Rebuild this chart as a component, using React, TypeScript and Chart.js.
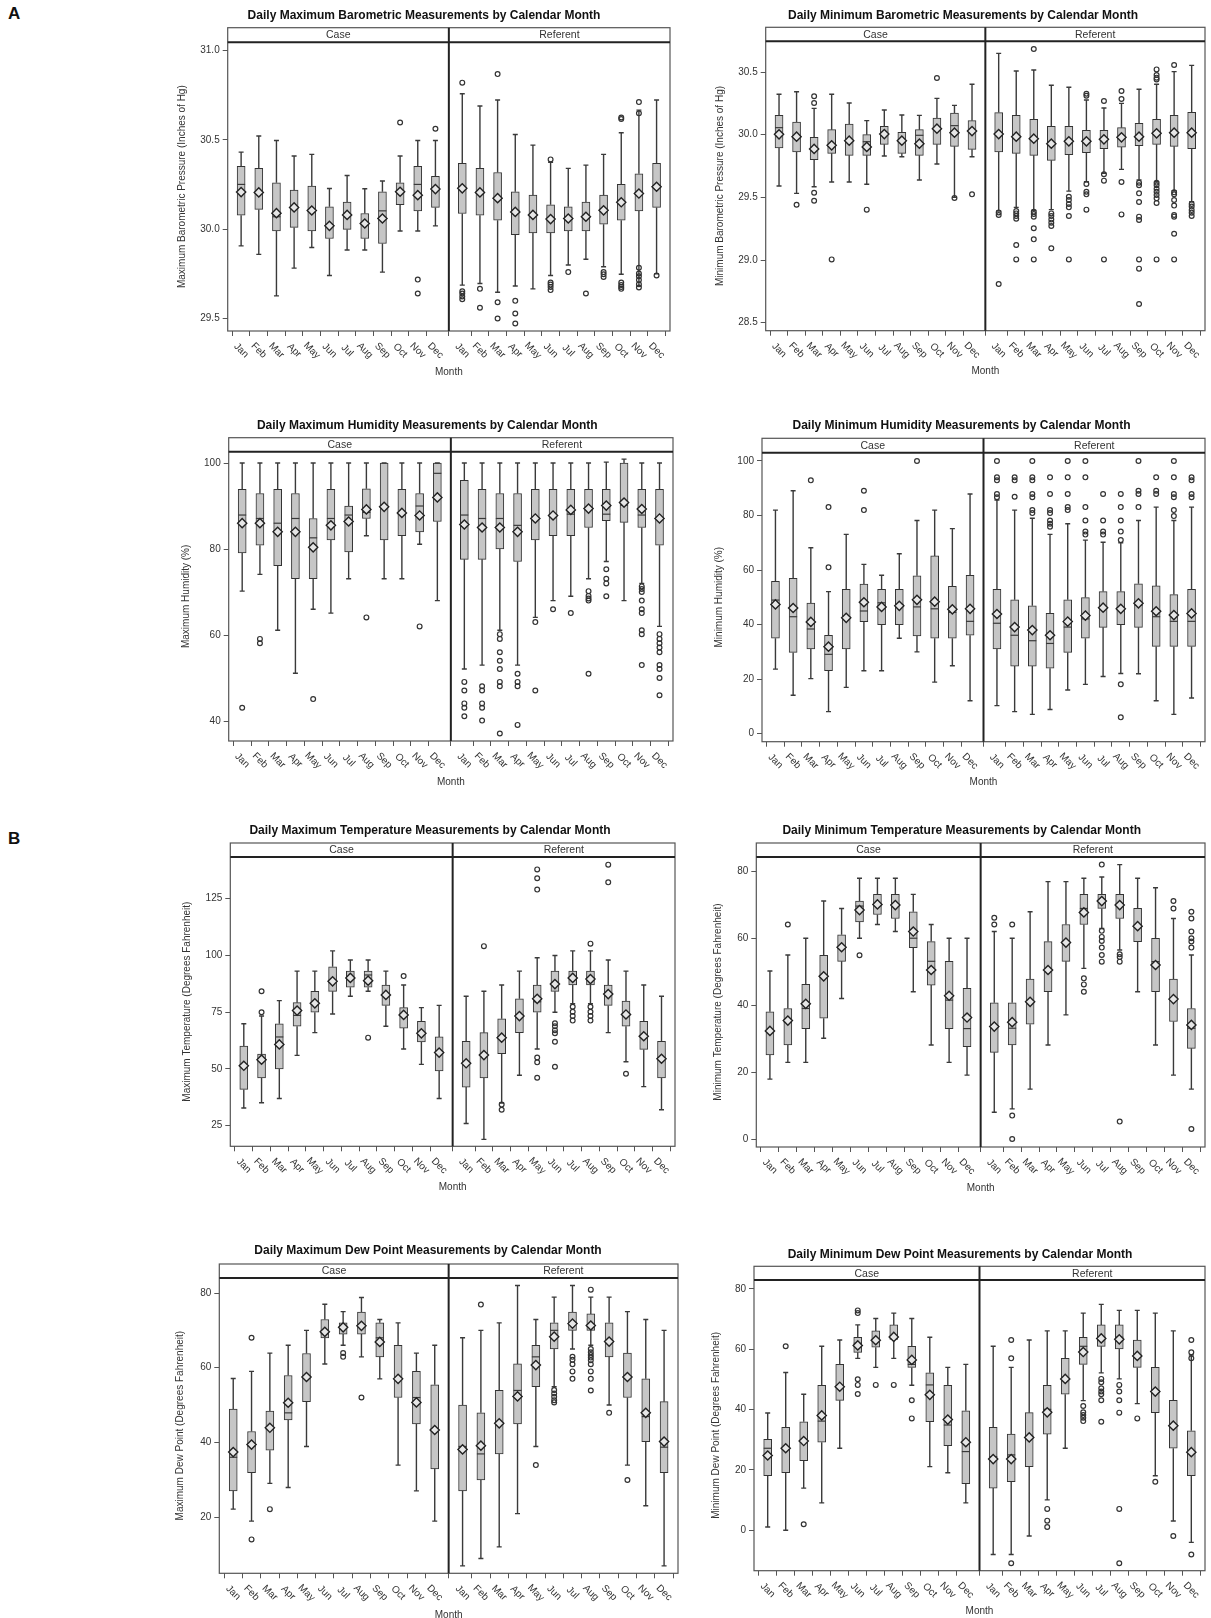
import React, { useEffect, useRef } from "react";
import { Chart, registerables } from "chart.js";
Chart.register(...registerables);

const FONT = "'Liberation Sans', Arial, sans-serif";
Chart.defaults.font.family = FONT;

// ---------- shared categories ----------
const months = ["Jan", "Feb", "Mar", "Apr", "May", "Jun", "Jul", "Aug", "Sep", "Oct", "Nov", "Dec"];
const facets = ["Case", "Referent"];

// ---------- Daily Maximum Barometric ----------
const maxBaroLow = [29.907, 29.859, 29.627, 29.782, 29.898, 29.741, 29.884, 29.884, 29.76, 29.99, 29.99, 30.019, 29.687, 29.696, 29.647, 29.682, 29.666, 29.741, 29.8, 29.832, 29.79, 29.748, 29.682, 29.75];
const maxBaroQ1 = [30.079, 30.111, 29.99, 30.01, 29.99, 29.948, 29.999, 29.948, 29.92, 30.137, 30.102, 30.122, 30.088, 30.079, 30.051, 29.97, 29.98, 29.98, 29.99, 29.99, 30.028, 30.051, 30.102, 30.122];
const maxBaroMed = [30.251, 30.206, 30.07, 30.122, 30.103, 30.019, 30.08, 30.032, 30.103, 30.21, 30.251, 30.228, 30.232, 30.21, 30.177, 30.106, 30.08, 30.06, 30.06, 30.07, 30.106, 30.151, 30.2, 30.238];
const maxBaroQ3 = [30.352, 30.341, 30.26, 30.219, 30.242, 30.126, 30.152, 30.088, 30.21, 30.26, 30.352, 30.296, 30.369, 30.341, 30.318, 30.21, 30.191, 30.137, 30.126, 30.152, 30.191, 30.251, 30.311, 30.369];
const maxBaroHigh = [30.432, 30.522, 30.497, 30.41, 30.419, 30.228, 30.301, 30.227, 30.27, 30.41, 30.497, 30.497, 30.759, 30.69, 30.724, 30.531, 30.471, 30.375, 30.341, 30.359, 30.419, 30.54, 30.667, 30.724];
const maxBaroMean = [30.208, 30.206, 30.09, 30.122, 30.105, 30.019, 30.08, 30.032, 30.06, 30.21, 30.191, 30.225, 30.229, 30.206, 30.174, 30.097, 30.08, 30.057, 30.06, 30.07, 30.106, 30.151, 30.2, 30.238];
const maxBaroOut = [[], [], [], [], [], [], [], [], [], [30.598], [29.718, 29.64], [30.563],
  [30.821, 29.653, 29.64, 29.623, 29.608], [29.666, 29.56], [30.869, 29.591, 29.5], [29.599, 29.528, 29.472], [], [30.391, 29.702, 29.69, 29.677, 29.659], [29.76], [29.64], [29.76, 29.748, 29.733], [30.626, 30.617, 29.702, 29.687, 29.677, 29.666], [30.712, 30.649, 29.784, 29.752, 29.737, 29.715, 29.692, 29.674], [29.741]];
const maxBaroTicks = [29.5, 30.0, 30.5, 31.0];

// ---------- Daily Minimum Barometric ----------
const minBaroLow = [29.59, 29.532, 29.585, 29.622, 29.622, 29.604, 29.83, 29.824, 29.638, 29.766, 29.5, 29.824, 29.391, 29.42, 29.396, 29.402, 29.55, 29.625, 29.691, 29.723, 29.638, 29.625, 29.553, 29.465];
const minBaroQ1 = [29.894, 29.862, 29.8, 29.851, 29.835, 29.835, 29.923, 29.851, 29.835, 29.923, 29.907, 29.883, 29.862, 29.851, 29.835, 29.795, 29.84, 29.856, 29.888, 29.901, 29.912, 29.923, 29.907, 29.888];
const minBaroMed = [30.056, 29.984, 29.886, 29.918, 29.952, 29.944, 30.005, 29.952, 29.995, 30.056, 30.072, 30.029, 30.011, 29.989, 29.973, 29.923, 29.947, 29.947, 29.963, 29.979, 29.984, 30.016, 30.021, 30.021];
const minBaroQ3 = [30.154, 30.101, 29.979, 30.04, 30.085, 30.0, 30.066, 30.019, 30.04, 30.133, 30.173, 30.112, 30.176, 30.154, 30.122, 30.066, 30.066, 30.035, 30.035, 30.056, 30.09, 30.122, 30.154, 30.178];
const minBaroHigh = [30.322, 30.343, 30.21, 30.322, 30.253, 30.112, 30.197, 30.157, 30.154, 30.29, 30.234, 30.402, 30.649, 30.508, 30.516, 30.394, 30.378, 30.277, 30.213, 30.25, 30.362, 30.402, 30.503, 30.553];
const minBaroMean = [30.003, 29.984, 29.886, 29.915, 29.952, 29.902, 30.005, 29.952, 29.928, 30.048, 30.016, 30.029, 30.005, 29.984, 29.968, 29.928, 29.947, 29.947, 29.963, 29.979, 29.984, 30.011, 30.016, 30.016];
const minBaroOut = [[], [29.441], [30.306, 30.253, 29.537, 29.473], [29.005], [], [29.402], [], [], [], [30.452], [29.495], [29.524],
  [29.38, 29.359, 28.809], [29.391, 29.372, 29.351, 29.33, 29.12, 29.005], [30.684, 29.386, 29.367, 29.346, 29.253, 29.165, 29.005], [29.372, 29.351, 29.324, 29.298, 29.271, 29.093], [29.505, 29.479, 29.447, 29.42, 29.351, 29.005], [30.327, 30.311, 29.606, 29.545, 29.524, 29.402], [30.269, 29.684, 29.633, 29.005], [30.348, 30.285, 29.622, 29.364], [29.617, 29.596, 29.532, 29.463, 29.346, 29.319, 29.005, 28.931, 28.649], [30.521, 30.476, 30.455, 30.441, 29.617, 29.596, 29.569, 29.545, 29.519, 29.492, 29.455, 29.005], [30.556, 29.54, 29.524, 29.479, 29.434, 29.359, 29.346, 29.21, 29.005], [29.447, 29.426, 29.399, 29.378, 29.351]];
const minBaroTicks = [28.5, 29.0, 29.5, 30.0, 30.5];

// ---------- Daily Maximum Humidity ----------
const maxHumLow = [70.2, 74.1, 61.1, 51.1, 66.0, 65.1, 73.1, 83.1, 73.1, 73.1, 81.1, 68.0, 52.1, 53.0, 61.1, 53.0, 64.1, 68.0, 69.0, 73.1, 77.1, 68.0, 72.0, 62.0];
const maxHumQ1 = [79.1, 80.9, 76.1, 73.1, 73.1, 82.1, 79.3, 87.1, 82.1, 83.1, 84.0, 86.4, 77.6, 77.6, 80.0, 77.1, 82.1, 83.1, 83.1, 85.0, 86.6, 86.2, 85.0, 80.9];
const maxHumMed = [87.9, 87.1, 86.0, 87.1, 82.6, 87.1, 87.9, 88.5, 89.8, 88.1, 90.0, 97.6, 87.9, 87.1, 87.1, 85.5, 87.1, 87.9, 88.1, 89.1, 88.1, 90.2, 87.9, 87.1];
const maxHumQ3 = [93.9, 92.9, 93.9, 92.9, 87.1, 93.9, 90.0, 94.0, 100, 93.9, 92.9, 100, 96.0, 93.9, 92.9, 92.9, 93.9, 93.9, 93.9, 93.9, 93.9, 100, 93.9, 93.9];
const maxHumHigh = [100, 100, 100, 100, 100, 100, 100, 100, 100, 100, 100, 100, 100, 100, 100, 100, 100, 100, 100, 100, 100.2, 100.9, 100, 100];
const maxHumMean = [86.0, 86.0, 84.0, 84.0, 80.4, 85.5, 86.4, 89.2, 89.8, 88.4, 87.8, 92.0, 85.7, 85.0, 85.0, 84.0, 87.1, 87.8, 89.1, 89.4, 90.1, 90.8, 89.3, 87.1];
const maxHumOut = [[43.1], [59.1, 58.1], [], [], [45.1], [], [], [64.1], [], [], [62.0], [],
  [49.1, 47.1, 44.1, 43.1, 41.1], [48.1, 47.1, 44.1, 43.1, 40.1], [60.2, 59.1, 56.0, 54.0, 52.1, 49.1, 48.1, 37.1], [51.0, 49.1, 48.1, 39.1], [63.0, 47.1], [66.0], [65.1], [70.2, 69.1, 68.5, 68.0, 51.0], [75.3, 73.1, 72.0, 69.0], [], [71.3, 70.7, 70.0, 68.0, 66.0, 65.1, 61.1, 60.2, 53.0], [60.2, 59.1, 58.1, 57.1, 56.0, 53.0, 52.1, 50.0, 46.0]];
const maxHumTicks = [40, 60, 80, 100];

// ---------- Daily Minimum Humidity ----------
const minHumLow = [23.7, 14.1, 20.2, 8.1, 17.0, 23.1, 23.1, 35.0, 30.0, 18.9, 24.9, 12.1, 10.3, 8.1, 7.1, 8.9, 16.0, 18.1, 21.0, 22.1, 22.0, 12.1, 7.1, 13.1];
const minHumQ1 = [35.0, 29.8, 31.1, 23.1, 31.1, 41.1, 40.0, 40.0, 35.9, 35.0, 35.0, 36.1, 31.1, 24.8, 24.8, 24.0, 29.8, 35.0, 39.0, 40.0, 39.0, 32.0, 32.0, 32.0];
const minHumMed = [49.0, 42.9, 38.4, 29.1, 42.8, 45.0, 48.0, 47.4, 46.5, 45.8, 44.5, 41.2, 40.5, 36.1, 34.1, 33.1, 39.1, 42.1, 46.5, 46.1, 47.1, 42.9, 41.2, 41.2];
const minHumQ3 = [55.9, 57.0, 47.9, 36.1, 52.9, 54.9, 52.9, 52.9, 57.9, 65.2, 54.0, 58.1, 52.9, 49.1, 46.9, 44.1, 49.1, 49.9, 52.1, 52.1, 55.0, 54.2, 51.0, 52.9];
const minHumHigh = [82.0, 89.1, 68.2, 52.1, 73.1, 62.1, 58.1, 66.0, 78.2, 82.0, 75.2, 87.9, 85.7, 82.0, 79.0, 73.1, 77.0, 71.0, 70.2, 70.0, 78.2, 83.1, 78.2, 83.1];
const minHumMean = [47.4, 46.1, 41.0, 31.9, 42.5, 48.2, 46.5, 46.9, 49.1, 48.4, 45.6, 45.8, 43.9, 39.1, 38.0, 36.1, 41.1, 43.3, 46.2, 45.8, 47.8, 44.9, 43.5, 44.1];
const minHumOut = [[], [], [92.9], [83.1, 61.0], [], [89.1, 82.0], [], [], [100], [], [], [],
  [100, 94.0, 92.9, 87.9, 86.7], [94.0, 92.9, 86.9], [100, 94.0, 92.9, 87.9, 86.7, 82.0, 80.9], [94.0, 87.9, 82.0, 80.9, 78.2, 77.0, 75.9], [100, 94.0, 87.9, 83.1, 82.0], [100, 94.0, 83.1, 78.2, 74.1, 73.0], [87.9, 78.2, 74.1, 73.0], [87.9, 83.1, 78.2, 74.1, 71.0, 18.1, 6.0], [100, 89.1, 87.9, 83.1], [94.0, 89.1, 87.9], [100, 94.0, 87.9, 86.7, 82.0, 79.8], [94.0, 92.9, 87.9, 86.7]];
const minHumTicks = [0, 20, 40, 60, 80, 100];

// ---------- Daily Maximum Temperature ----------
const maxTempLow = [32.8, 35.1, 37.0, 56.0, 66.0, 74.2, 82.0, 84.2, 68.8, 58.8, 52.0, 37.0, 26.0, 19.0, 35.0, 47.2, 58.8, 75.0, 78.7, 78.7, 66.0, 53.2, 42.2, 32.0];
const maxTempQ1 = [41.0, 46.0, 50.0, 68.8, 75.0, 84.2, 86.0, 86.0, 78.0, 68.0, 61.9, 49.1, 42.0, 46.0, 56.7, 66.0, 75.0, 84.2, 87.0, 87.0, 78.0, 68.8, 58.6, 46.0];
const maxTempMed = [51.4, 54.1, 64.1, 73.6, 78.6, 88.9, 90.1, 91.4, 82.6, 74.0, 65.7, 57.3, 52.5, 56.3, 64.1, 73.8, 79.6, 88.0, 90.1, 89.9, 83.0, 74.0, 64.4, 54.4];
const maxTempQ3 = [60.1, 56.5, 69.9, 79.2, 84.2, 95.0, 93.1, 93.1, 87.0, 77.0, 71.0, 64.1, 62.2, 66.0, 72.1, 80.9, 87.0, 93.1, 93.1, 93.1, 87.0, 79.9, 71.0, 62.2];
const maxTempHigh = [69.9, 73.3, 80.1, 93.1, 93.1, 102.0, 98.0, 98.0, 93.1, 87.0, 77.0, 78.0, 82.0, 84.2, 87.0, 93.1, 99.0, 100.0, 102.0, 102.0, 98.0, 93.1, 87.0, 82.0];
const maxTempMean = [51.4, 54.1, 60.8, 75.7, 78.9, 88.6, 90.1, 88.9, 82.6, 73.8, 65.7, 57.2, 52.5, 56.1, 63.8, 73.3, 80.9, 87.4, 90.1, 89.6, 83.0, 74.0, 64.4, 54.5];
const maxTempOut = [[], [84.2, 75.0], [], [], [], [], [], [63.8], [], [90.9], [], [],
  [], [104.1], [34.3, 32.0], [], [137.9, 134.0, 129.0, 55.0, 52.9, 46.1], [70.1, 68.8, 67.1, 65.7, 62.0, 51.0], [77.4, 75.2, 73.3, 71.3], [105.2, 77.4, 75.2, 73.3, 71.3], [140.0, 132.2], [47.9], [], []];
const maxTempTicks = [25, 50, 75, 100, 125];

// ---------- Daily Minimum Temperature ----------
const minTempLow = [17.9, 22.9, 22.9, 30.1, 42.0, 60.0, 64.1, 62.0, 44.0, 28.1, 22.9, 19.1, 8.0, 9.0, 14.9, 28.1, 37.1, 51.0, 62.9, 56.5, 44.0, 28.1, 19.1, 14.9];
const minTempQ1 = [25.1, 28.1, 33.0, 36.1, 53.1, 64.9, 67.1, 65.9, 57.2, 46.0, 33.0, 27.6, 25.9, 28.1, 34.3, 44.0, 53.1, 64.1, 68.9, 65.9, 59.0, 44.0, 35.1, 27.1];
const minTempMed = [32.1, 34.9, 39.0, 48.4, 57.2, 69.6, 70.1, 69.9, 60.0, 53.1, 41.5, 33.0, 33.3, 33.1, 41.0, 50.8, 59.0, 68.9, 71.1, 70.1, 63.9, 53.0, 42.0, 33.1];
const minTempQ3 = [38.0, 39.0, 46.2, 54.9, 61.0, 71.1, 73.1, 73.1, 67.9, 59.0, 53.1, 45.0, 40.7, 40.7, 47.8, 59.0, 64.1, 73.1, 73.1, 73.1, 68.9, 60.0, 47.8, 39.0];
const minTempHigh = [50.2, 55.0, 60.0, 71.1, 68.9, 77.9, 77.9, 77.9, 73.1, 64.1, 60.0, 60.0, 62.0, 60.0, 67.9, 76.9, 76.9, 77.9, 78.3, 82.0, 77.9, 75.1, 65.9, 55.0];
const minTempMean = [32.3, 35.4, 40.4, 48.6, 57.3, 68.4, 70.1, 69.9, 62.0, 50.5, 42.8, 36.3, 33.6, 34.9, 41.0, 50.5, 58.7, 67.7, 71.1, 69.9, 63.6, 52.0, 41.8, 34.1];
const minTempOut = [[], [64.1], [], [], [], [54.9], [], [], [], [], [], [],
  [66.1, 64.1], [64.1, 7.0, 0], [], [], [], [48.0, 46.2, 44.0], [82.0, 62.2, 60.4, 59.2, 57.2, 55.0, 53.0], [55.2, 54.4, 53.0, 5.2], [], [], [71.1, 68.9], [67.9, 65.9, 62.0, 60.0, 59.0, 57.2, 3.0]];
const minTempTicks = [0, 20, 40, 60, 80];

// ---------- Daily Maximum Dew Point ----------
const maxDewLow = [22.1, 18.9, 29.0, 27.9, 38.9, 61.0, 66.0, 62.9, 57.0, 33.9, 27.0, 18.9, 6.9, 8.9, 12.0, 20.9, 38.9, 54.9, 65.0, 66.0, 50.0, 33.9, 23.0, 6.9];
const maxDewQ1 = [27.0, 31.9, 37.9, 46.0, 50.9, 68.0, 69.0, 69.0, 62.9, 52.0, 44.9, 32.9, 27.0, 29.9, 36.9, 44.9, 54.9, 65.0, 70.0, 70.0, 62.9, 52.0, 40.2, 31.9];
const maxDewMed = [36.0, 38.9, 43.5, 47.9, 57.5, 69.1, 71.0, 71.4, 68.0, 57.0, 52.0, 43.6, 38.9, 36.9, 44.9, 53.9, 62.9, 70.0, 72.0, 71.3, 67.0, 57.5, 46.9, 38.7];
const maxDewQ3 = [48.9, 42.9, 48.4, 57.9, 63.8, 72.9, 72.0, 74.9, 72.0, 66.0, 59.0, 55.4, 50.0, 47.9, 53.9, 61.0, 66.0, 72.0, 74.9, 74.4, 72.0, 63.9, 57.0, 50.9];
const maxDewHigh = [57.1, 59.0, 63.9, 66.0, 70.0, 77.0, 75.0, 78.8, 72.9, 72.0, 63.9, 66.0, 68.0, 70.0, 72.0, 82.0, 72.9, 78.9, 82.0, 78.9, 78.9, 75.0, 72.9, 70.0];
const maxDewMean = [37.4, 39.4, 43.9, 50.6, 57.5, 69.6, 70.8, 71.2, 66.9, 57.0, 50.7, 43.3, 38.1, 39.1, 45.1, 52.3, 60.7, 68.3, 71.8, 71.3, 67.0, 57.5, 47.9, 40.2];
const maxDewOut = [[], [68.0, 14.0], [22.1], [], [], [], [63.9, 62.9], [52.0], [], [], [], [],
  [], [76.9], [], [], [33.9], [54.0, 53.1, 52.2, 51.3, 50.7], [62.9, 62.1, 60.9, 59.0, 57.0], [80.9, 65.0, 64.1, 63.4, 62.7, 62.0, 60.9, 59.0, 57.0, 53.9], [47.9], [29.9], [], []];
const maxDewTicks = [20, 40, 60, 80];

// ---------- Daily Minimum Dew Point ----------
const minDewLow = [1.1, 0, 14.0, 9.1, 27.2, 57.0, 54.0, 57.0, 48.1, 21.1, 19.1, 9.1, -8.0, -8.0, -1.9, 10.1, 27.2, 43.0, 52.2, 50.2, 42.0, 18.1, 3.1, -4.0];
const minDewQ1 = [18.1, 19.1, 23.1, 29.2, 43.1, 59.0, 60.7, 63.3, 54.0, 36.0, 28.1, 15.5, 14.0, 16.1, 21.1, 31.9, 45.1, 55.0, 61.0, 60.1, 54.0, 39.0, 27.2, 18.1];
const minDewMed = [27.2, 27.2, 29.6, 36.2, 47.6, 62.0, 63.0, 64.1, 55.0, 48.2, 34.9, 26.1, 24.4, 25.0, 31.2, 40.1, 50.2, 61.0, 64.0, 64.0, 58.1, 46.2, 34.9, 26.1];
const minDewQ3 = [30.2, 34.1, 36.0, 48.1, 55.0, 64.0, 66.1, 68.1, 61.0, 52.2, 48.1, 39.6, 34.1, 31.9, 39.0, 48.1, 57.0, 64.0, 68.1, 68.1, 63.1, 54.0, 43.1, 33.0];
const minDewHigh = [38.9, 52.3, 45.1, 61.0, 63.1, 68.1, 70.2, 72.0, 70.2, 64.0, 54.0, 55.0, 61.0, 54.0, 63.1, 66.1, 66.1, 72.0, 74.9, 72.9, 72.9, 72.0, 66.1, 58.1];
const minDewMean = [24.8, 27.2, 29.6, 38.1, 47.6, 61.3, 63.0, 64.1, 56.5, 44.9, 36.7, 29.2, 23.6, 23.6, 30.8, 39.1, 50.2, 59.1, 63.6, 63.3, 57.8, 46.0, 34.7, 25.9];
const minDewOut = [[], [61.0], [2.0], [], [], [72.9, 72.0, 50.1, 48.2, 45.2], [48.2], [48.2], [43.1, 37.1], [], [], [],
  [], [63.1, 57.0, -10.9], [], [7.1, 3.2, 1.1], [], [41.2, 39.1, 38.2, 37.3, 36.2], [50.2, 49.1, 47.1, 46.0, 45.1, 43.1, 36.0], [48.2, 46.0, 43.1, 39.0, 7.1, -10.9], [37.1], [16.1], [-1.9], [63.1, 59.0, 57.0, -8.0]];
const minDewTicks = [0, 20, 40, 60, 80];

// ---------- layout helpers ----------
const PAD = 0.76;
const FACET = 11 + 2 * PAD;
const posOf = (k: number) => (k < 12 ? PAD + k : FACET + PAD + (k - 12));
const positions = Array.from({ length: 24 }, (_, k) => posOf(k));

type Layout = { plotL: number; plotR: number; stripT: number; stripB: number; plotB: number; titleX: number; titleY: number; yTitleX: number; monthY: number };
type Spec = {
  title: string; yTitle: string; low: number[]; q1: number[]; med: number[]; q3: number[]; high: number[]; mean: number[]; out: number[][];
  yMin: number; yMax: number; ticks: number[]; dec: number; layout: Layout;
};

const panels: Spec[] = [
  { title: "Daily Maximum Barometric Measurements by Calendar Month", yTitle: "Maximum Barometric Pressure (Inches of Hg)", low: maxBaroLow, q1: maxBaroQ1, med: maxBaroMed, q3: maxBaroQ3, high: maxBaroHigh, mean: maxBaroMean, out: maxBaroOut, yMin: 29.43, yMax: 31.047, ticks: maxBaroTicks, dec: 1,
    layout: { plotL: 227.7, plotR: 674, stripT: 27.7, stripB: 42.3, plotB: 331, titleX: 424, titleY: 16, yTitleX: 182.3, monthY: 372 } },
  { title: "Daily Minimum Barometric Measurements by Calendar Month", yTitle: "Minimum Barometric Pressure (Inches of Hg)", low: minBaroLow, q1: minBaroQ1, med: minBaroMed, q3: minBaroQ3, high: minBaroHigh, mean: minBaroMean, out: minBaroOut, yMin: 28.436, yMax: 30.745, ticks: minBaroTicks, dec: 1,
    layout: { plotL: 765.7, plotR: 1210, stripT: 27.3, stripB: 41.3, plotB: 330.7, titleX: 963, titleY: 15.7, yTitleX: 720.7, monthY: 371.7 } },
  { title: "Daily Maximum Humidity Measurements by Calendar Month", yTitle: "Maximum Humidity (%)", low: maxHumLow, q1: maxHumQ1, med: maxHumMed, q3: maxHumQ3, high: maxHumHigh, mean: maxHumMean, out: maxHumOut, yMin: 35.35, yMax: 102.63, ticks: maxHumTicks, dec: 0,
    layout: { plotL: 228.7, plotR: 676.7, stripT: 437.7, stripB: 451.7, plotB: 741, titleX: 427.3, titleY: 425.7, yTitleX: 186, monthY: 782 } },
  { title: "Daily Minimum Humidity Measurements by Calendar Month", yTitle: "Minimum Humidity (%)", low: minHumLow, q1: minHumQ1, med: minHumMed, q3: minHumQ3, high: minHumHigh, mean: minHumMean, out: minHumOut, yMin: -2.93, yMax: 103.04, ticks: minHumTicks, dec: 0,
    layout: { plotL: 762, plotR: 1209.3, stripT: 438.3, stripB: 452.7, plotB: 741.7, titleX: 961.5, titleY: 426, yTitleX: 719.3, monthY: 782.7 } },
  { title: "Daily Maximum Temperature Measurements by Calendar Month", yTitle: "Maximum Temperature (Degrees Fahrenheit)", low: maxTempLow, q1: maxTempQ1, med: maxTempMed, q3: maxTempQ3, high: maxTempHigh, mean: maxTempMean, out: maxTempOut, yMin: 15.93, yMax: 143.37, ticks: maxTempTicks, dec: 0,
    layout: { plotL: 230.3, plotR: 679, stripT: 843, stripB: 857, plotB: 1146.3, titleX: 430, titleY: 830.7, yTitleX: 187.3, monthY: 1187.7 } },
  { title: "Daily Minimum Temperature Measurements by Calendar Month", yTitle: "Minimum Temperature (Degrees Fahrenheit)", low: minTempLow, q1: minTempQ1, med: minTempMed, q3: minTempQ3, high: minTempHigh, mean: minTempMean, out: minTempOut, yMin: -2.39, yMax: 84.27, ticks: minTempTicks, dec: 0,
    layout: { plotL: 756.3, plotR: 1210, stripT: 843, stripB: 857, plotB: 1147, titleX: 961.7, titleY: 830.7, yTitleX: 718.3, monthY: 1188.3 } },
  { title: "Daily Maximum Dew Point Measurements by Calendar Month", yTitle: "Maximum Dew Point (Degrees Fahrenheit)", low: maxDewLow, q1: maxDewQ1, med: maxDewMed, q3: maxDewQ3, high: maxDewHigh, mean: maxDewMean, out: maxDewOut, yMin: 4.92, yMax: 84.02, ticks: maxDewTicks, dec: 0,
    layout: { plotL: 219.3, plotR: 682, stripT: 1264, stripB: 1278, plotB: 1573.3, titleX: 428, titleY: 1251, yTitleX: 180, monthY: 1615 } },
  { title: "Daily Minimum Dew Point Measurements by Calendar Month", yTitle: "Minimum Dew Point (Degrees Fahrenheit)", low: minDewLow, q1: minDewQ1, med: minDewMed, q3: minDewQ3, high: minDewHigh, mean: minDewMean, out: minDewOut, yMin: -13.39, yMax: 82.98, ticks: minDewTicks, dec: 0,
    layout: { plotL: 754, plotR: 1210, stripT: 1266.3, stripB: 1280, plotB: 1570.7, titleX: 960, titleY: 1254.3, yTitleX: 716.7, monthY: 1611.7 } },
];

const TEXT = "#333333";
const DARK = "#222222";

function Panel({ spec }: { spec: Spec }) {
  const ref = useRef<HTMLCanvasElement>(null);
  const L = spec.layout;
  const cLeft = Math.floor(L.yTitleX - 14);
  const cTop = Math.floor(L.titleY - 12);
  const cRight = Math.min(1211, Math.ceil(L.plotR + 2));
  const cBottom = Math.ceil(L.monthY + 9);
  const W = cRight - cLeft;
  const H = cBottom - cTop;

  useEffect(() => {
    const canvas = ref.current;
    if (!canvas) return;
    const decor = {
      id: "boxDecor",
      afterDatasetDraw(chart: any, args: any) {
        if (args.index !== 0) return;
        const x = chart.scales.x;
        const y = chart.scales.y;
        const ctx = chart.ctx;
        ctx.save();
        ctx.strokeStyle = "#3a3a3a";
        ctx.lineWidth = 1.4;
        for (let k = 0; k < 24; k++) {
          const px = x.getPixelForValue(positions[k]);
          const yHi = y.getPixelForValue(spec.high[k]);
          const yLo = y.getPixelForValue(spec.low[k]);
          const yQ1 = y.getPixelForValue(spec.q1[k]);
          const yQ3 = y.getPixelForValue(spec.q3[k]);
          ctx.beginPath();
          ctx.moveTo(px, yQ3); ctx.lineTo(px, yHi);
          ctx.moveTo(px - 2.5, yHi); ctx.lineTo(px + 2.5, yHi);
          ctx.moveTo(px, yQ1); ctx.lineTo(px, yLo);
          ctx.moveTo(px - 2.5, yLo); ctx.lineTo(px + 2.5, yLo);
          ctx.stroke();
          const yMed = y.getPixelForValue(spec.med[k]);
          ctx.beginPath();
          ctx.lineWidth = 1.2;
          ctx.moveTo(px - 4, yMed); ctx.lineTo(px + 4, yMed);
          ctx.stroke();
          ctx.lineWidth = 1.4;
        }
        ctx.restore();
      },
      afterDraw(chart: any) {
        const ctx = chart.ctx;
        const a = chart.chartArea;
        const x = chart.scales.x;
        const stripT = L.stripT - cTop;
        const divX = x.getPixelForValue(FACET);
        ctx.save();
        // frame
        ctx.strokeStyle = "#555555";
        ctx.lineWidth = 1.2;
        ctx.strokeRect(a.left, stripT, a.right - a.left, a.bottom - stripT);
        // strip separator & facet divider
        ctx.strokeStyle = DARK;
        ctx.lineWidth = 2;
        ctx.beginPath();
        ctx.moveTo(a.left, a.top); ctx.lineTo(a.right, a.top);
        ctx.moveTo(divX, stripT); ctx.lineTo(divX, a.bottom);
        ctx.stroke();
        // strip labels
        ctx.fillStyle = TEXT;
        ctx.font = `10.5px ${FONT}`;
        ctx.textAlign = "center";
        ctx.textBaseline = "middle";
        const sy = (stripT + a.top) / 2 + 0.5;
        ctx.fillText(facets[0], (a.left + divX) / 2, sy);
        ctx.fillText(facets[1], (divX + a.right) / 2, sy);
        // title
        ctx.fillStyle = "#111111";
        ctx.font = `bold 12px ${FONT}`;
        ctx.fillText(spec.title, L.titleX - cLeft, L.titleY - cTop);
        // y title
        ctx.fillStyle = TEXT;
        ctx.font = `10px ${FONT}`;
        ctx.save();
        ctx.translate(L.yTitleX - cLeft, (a.top + a.bottom) / 2);
        ctx.rotate(-Math.PI / 2);
        ctx.fillText(spec.yTitle, 0, 0);
        ctx.restore();
        // x tick labels (rotated)
        for (let k = 0; k < 24; k++) {
          const px = x.getPixelForValue(positions[k]);
          ctx.save();
          ctx.translate(px, a.bottom + 19.5);
          ctx.rotate(Math.PI / 4);
          ctx.fillText(months[k % 12], 0, 0);
          ctx.restore();
        }
        // x title
        ctx.fillText("Month", (a.left + a.right) / 2, L.monthY - cTop);
        ctx.restore();
      },
    };

    const boxData = positions.map((p, k) => ({ x: p, y: [spec.q1[k], spec.q3[k]] }));
    const meanData = positions.map((p, k) => ({ x: p, y: spec.mean[k] }));
    const outData: { x: number; y: number }[] = [];
    spec.out.forEach((list, k) => list.forEach((v) => outData.push({ x: positions[k], y: v })));

    const chart = new Chart(canvas, {
      type: "bar",
      data: {
        datasets: [
          { type: "bar", data: boxData as any, backgroundColor: "#c6c6c6", borderColor: "#333333", borderWidth: 1, borderSkipped: false, barThickness: 8, order: 3 } as any,
          { type: "scatter", data: meanData, pointStyle: "rectRot", pointRadius: 4.6, pointBorderWidth: 1.4, pointBorderColor: "#222222", pointBackgroundColor: "#e6e6e6", order: 1 } as any,
          { type: "scatter", data: outData, pointStyle: "circle", pointRadius: 2.4, pointBorderWidth: 1.2, pointBorderColor: "#333333", pointBackgroundColor: "rgba(255,255,255,0)", order: 2 } as any,
        ],
      },
      options: {
        responsive: false,
        animation: false,
        devicePixelRatio: 1,
        events: [],
        layout: { padding: { left: 0, top: L.stripB - cTop, right: cRight - L.plotR, bottom: 0 } },
        plugins: { legend: { display: false }, tooltip: { enabled: false }, title: { display: false } },
        scales: {
          x: {
            type: "linear",
            min: 0,
            max: 2 * FACET,
            offset: false,
            afterBuildTicks: (s: any) => { s.ticks = positions.map((v) => ({ value: v })); },
            afterFit: (s: any) => { s.height = cBottom - L.plotB; },
            ticks: { display: false },
            grid: { display: true, drawOnChartArea: false, drawTicks: true, tickLength: 5, color: "#555555", lineWidth: 1 },
            border: { display: false },
          },
          y: {
            type: "linear",
            min: spec.yMin,
            max: spec.yMax,
            afterBuildTicks: (s: any) => { s.ticks = spec.ticks.map((v) => ({ value: v })); },
            afterFit: (s: any) => { s.width = L.plotL - cLeft; },
            ticks: { color: TEXT, font: { size: 10, family: FONT }, padding: 3, callback: (v: any) => Number(v).toFixed(spec.dec) },
            grid: { display: true, drawOnChartArea: false, drawTicks: true, tickLength: 5, color: "#555555", lineWidth: 1 },
            border: { display: false },
          },
        },
      } as any,
      plugins: [decor],
    });
    return () => chart.destroy();
  }, []);

  return (
    <canvas ref={ref} width={W} height={H} style={{ position: "absolute", left: cLeft, top: cTop, width: W, height: H }} />
  );
}

export default function App() {
  return (
    <div style={{ position: "absolute", left: 0, top: 0, width: 1211, height: 1618, background: "#ffffff", overflow: "hidden" }}>
      <div style={{ position: "absolute", left: 8, top: 4, font: `bold 17px ${FONT}`, color: "#111" }}>A</div>
      <div style={{ position: "absolute", left: 8, top: 829, font: `bold 17px ${FONT}`, color: "#111" }}>B</div>
      {panels.map((p, i) => (
        <Panel key={i} spec={p} />
      ))}
    </div>
  );
}
